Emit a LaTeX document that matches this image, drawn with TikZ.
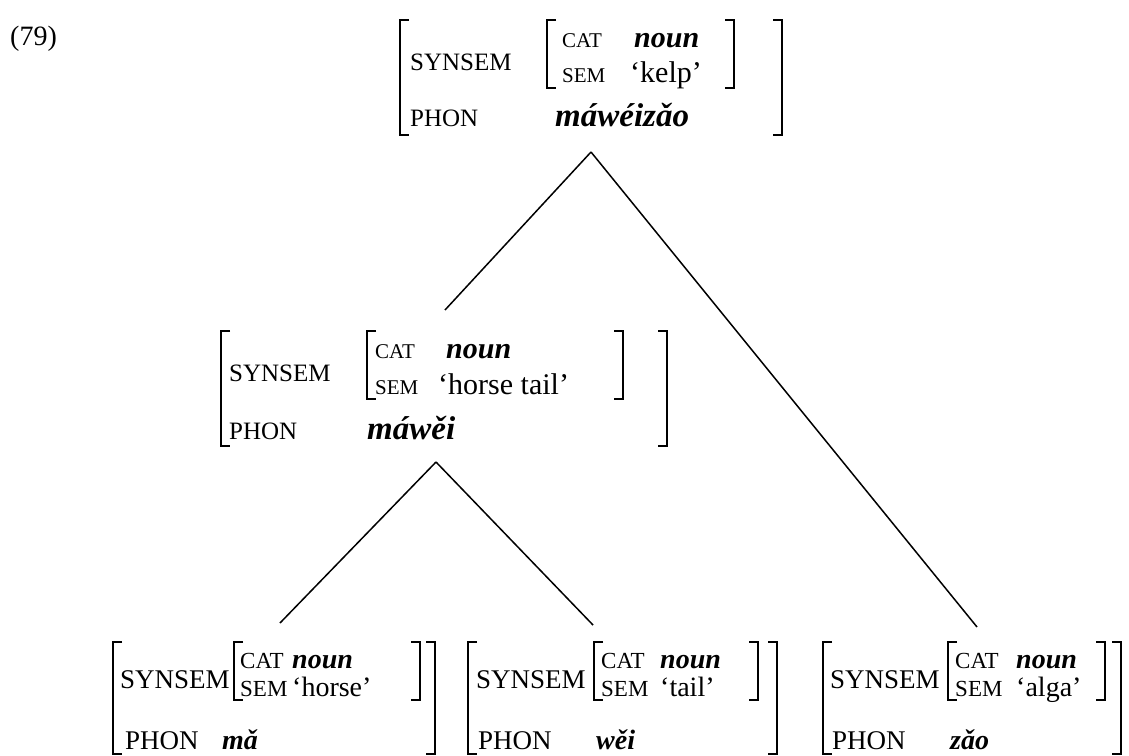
\documentclass[tikz,border=0pt]{standalone}
\usepackage{fontspec}
\setmainfont{Liberation Serif}
\newcommand\lbrk[3]{\draw[brk] ({#1+9},#2) -- (#1,#2) -- (#1,#3) -- ({#1+9},#3);}
\newcommand\rbrk[3]{\draw[brk] ({#1-9},#2) -- (#1,#2) -- (#1,#3) -- ({#1-9},#3);}
\tikzset{
  lab/.style={anchor=base west, inner sep=0pt, font=\fontsize{25}{25}\selectfont},
  blab/.style={anchor=base west, inner sep=0pt, font=\fontsize{27}{27}\selectfont},
  sublab/.style={anchor=base west, inner sep=0pt, font=\fontsize{21}{21}\selectfont},
  bsublab/.style={anchor=base west, inner sep=0pt, font=\fontsize{23}{23}\selectfont},
  val/.style={anchor=base west, inner sep=0pt, font=\fontsize{30}{30}\selectfont},
  ival/.style={anchor=base west, inner sep=0pt, font=\fontsize{30}{30}\selectfont\bfseries\itshape},
  pval/.style={anchor=base west, inner sep=0pt, font=\fontsize{33}{33}\selectfont\bfseries\itshape},
  bval/.style={anchor=base west, inner sep=0pt, font=\fontsize{28}{28}\selectfont},
  bival/.style={anchor=base west, inner sep=0pt, font=\fontsize{28}{28}\selectfont\bfseries\itshape},
  brk/.style={line width=1.4pt},
  edge/.style={line width=1.5pt},
}
\begin{document}
\begin{tikzpicture}[x=1pt,y=-1pt]
\fill[white] (0,0) rectangle (1129,755);
\useasboundingbox (0,0) rectangle (1129,755);
\node[anchor=base west, inner sep=0pt, font=\fontsize{28}{28}\selectfont] (num) at (10,45) {(79)};

% ---- top block
\lbrk{400}{20}{135}
\lbrk{547}{20}{88}
\rbrk{734}{20}{88}
\rbrk{782}{20}{135}
\node[lab] (t-syn) at (410,70) {SYNSEM};
\node[sublab] (t-cat) at (562,47) {CAT};
\node[ival] (t-catv) at (634,47) {noun};
\node[sublab] (t-sem) at (562,82) {SEM};
\node[val] (t-semv) at (630,82) {‘kelp’};
\node[lab] (t-phon) at (410,126) {PHON};
\node[pval] (t-phonv) at (555,126) {máwéizǎo};
\coordinate (t-apex) at (591,152);

% ---- middle block
\lbrk{221}{331}{446}
\lbrk{367}{331}{399}
\rbrk{623}{331}{399}
\rbrk{667}{331}{446}
\node[lab] (m-syn) at (229,381) {SYNSEM};
\node[sublab] (m-cat) at (375,358) {CAT};
\node[ival] (m-catv) at (446,358) {noun};
\node[sublab] (m-sem) at (375,394) {SEM};
\node[val] (m-semv) at (438,394) {‘horse tail’};
\node[lab] (m-phon) at (229,439) {PHON};
\node[pval] (m-phonv) at (367,439) {máwěi};
\coordinate (m-top) at (445,310);
\coordinate (m-apex) at (436,462);

% ---- bottom left
\lbrk{113}{642}{754}
\lbrk{234}{642}{700}
\rbrk{420}{642}{700}
\rbrk{435}{642}{754}
\node[blab] (l-syn) at (120,688) {SYNSEM};
\node[bsublab] (l-cat) at (240,668) {CAT};
\node[bival] (l-catv) at (292,668) {noun};
\node[bsublab] (l-sem) at (240,696) {SEM};
\node[bval] (l-semv) at (292,696) {‘horse’};
\node[blab] (l-phon) at (125,749) {PHON};
\node[bival] (l-phonv) at (222,749) {mǎ};
\coordinate (l-top) at (280,623);

% ---- bottom middle
\lbrk{468}{642}{754}
\lbrk{594}{642}{700}
\rbrk{758}{642}{700}
\rbrk{777}{642}{754}
\node[blab] (c-syn) at (476,688) {SYNSEM};
\node[bsublab] (c-cat) at (601,668) {CAT};
\node[bival] (c-catv) at (660,668) {noun};
\node[bsublab] (c-sem) at (601,696) {SEM};
\node[bval] (c-semv) at (660,696) {‘tail’};
\node[blab] (c-phon) at (478,749) {PHON};
\node[bival] (c-phonv) at (596,749) {wěi};
\coordinate (c-top) at (593,625);

% ---- bottom right
\lbrk{823}{642}{754}
\lbrk{948}{642}{700}
\rbrk{1105}{642}{700}
\rbrk{1121}{642}{754}
\node[blab] (r-syn) at (830,688) {SYNSEM};
\node[bsublab] (r-cat) at (955,668) {CAT};
\node[bival] (r-catv) at (1016,668) {noun};
\node[bsublab] (r-sem) at (955,696) {SEM};
\node[bval] (r-semv) at (1016,696) {‘alga’};
\node[blab] (r-phon) at (832,749) {PHON};
\node[bival] (r-phonv) at (950,749) {zǎo};
\coordinate (r-top) at (977,627);

% ---- edges
\draw[edge] (t-apex) -- (m-top);
\draw[edge] (t-apex) -- (r-top);
\draw[edge] (m-apex) -- (l-top);
\draw[edge] (m-apex) -- (c-top);
\end{tikzpicture}
\end{document}
